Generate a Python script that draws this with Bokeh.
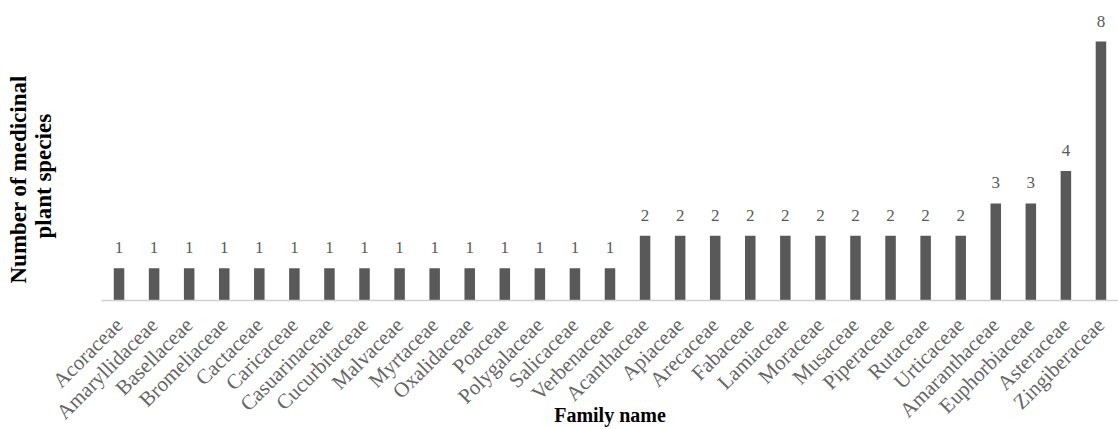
import math
from bokeh.plotting import figure
from bokeh.models import Range1d, ColumnDataSource, LabelSet, Title, FixedTicker
from bokeh.embed import file_html
from bokeh.resources import INLINE

families = ["Acoraceae", "Amaryllidaceae", "Basellaceae", "Bromeliaceae", "Cactaceae",
            "Caricaceae", "Casuarinaceae", "Cucurbitaceae", "Malvaceae", "Myrtaceae",
            "Oxalidaceae", "Poaceae", "Polygalaceae", "Salicaceae", "Verbenaceae",
            "Acanthaceae", "Apiaceae", "Arecaceae", "Fabaceae", "Lamiaceae",
            "Moraceae", "Musaceae", "Piperaceae", "Rutaceae", "Urticaceae",
            "Amaranthaceae", "Euphorbiaceae", "Asteraceae", "Zingiberaceae"]
counts = [1, 1, 1, 1, 1, 1, 1, 1, 1, 1, 1, 1, 1, 1, 1,
          2, 2, 2, 2, 2, 2, 2, 2, 2, 2,
          3, 3, 4, 8]

x_title = "Family name"
y_title_lines = ["Number of medicinal", "plant species"]

src = ColumnDataSource(dict(x=families, y=counts, lbl=[str(c) for c in counts]))

p = figure(width=1118, height=429, x_range=families, y_range=Range1d(0, 9.27),
           output_backend="svg", toolbar_location=None,
           min_border_left=101, min_border_right=0, min_border_top=0, min_border_bottom=129)

p.vbar(x="x", top="y", width=0.3, source=src, color="#595959", line_color=None)

labels = LabelSet(x="x", y="y", text="lbl", source=src, y_offset=15,
                  text_align="center", text_baseline="alphabetic",
                  text_font="DejaVu Sans", text_font_size="17px", text_color="#595959")
p.add_layout(labels)

p.xgrid.grid_line_color = None
p.ygrid.grid_line_color = None
p.outline_line_color = None

# y axis used only as an invisible spacer between the frame and the titles
ya = p.yaxis[0]
ya.ticker = FixedTicker(ticks=[0])
ya.major_label_overrides = {0: ""}
ya.axis_line_color = None
ya.major_tick_line_color = None
ya.minor_tick_line_color = None
ya.major_tick_out = 44
ya.major_tick_in = 0
ya.minor_tick_out = 0
ya.major_label_standoff = 0

ax = p.xaxis[0]
ax.axis_line_color = "#d0d0d0"
ax.axis_line_width = 1.5
ax.major_tick_line_color = None
ax.minor_tick_line_color = None
ax.major_tick_out = 0
ax.major_tick_in = 0
ax.major_label_orientation = math.pi / 4
ax.major_label_standoff = 21
ax.major_label_text_font = "Liberation Serif"
ax.major_label_text_font_size = "21px"
ax.major_label_text_color = "#666666"
ax.axis_label = x_title
ax.axis_label_text_font = "Liberation Serif"
ax.axis_label_text_font_style = "bold"
ax.axis_label_text_font_size = "20px"
ax.axis_label_text_color = "black"
ax.axis_label_standoff = -31

t2 = Title(text=y_title_lines[1], align="left", offset=62, vertical_align="top", standoff=0,
           text_font="Liberation Serif", text_font_style="bold", text_font_size="23px",
           text_color="black")
p.add_layout(t2, "left")
t1 = Title(text=y_title_lines[0], align="left", offset=17, vertical_align="bottom", standoff=0,
           text_font="Liberation Serif", text_font_style="bold", text_font_size="23px",
           text_color="black")
p.add_layout(t1, "left")

open("out.html", "w").write(file_html(p, INLINE))
